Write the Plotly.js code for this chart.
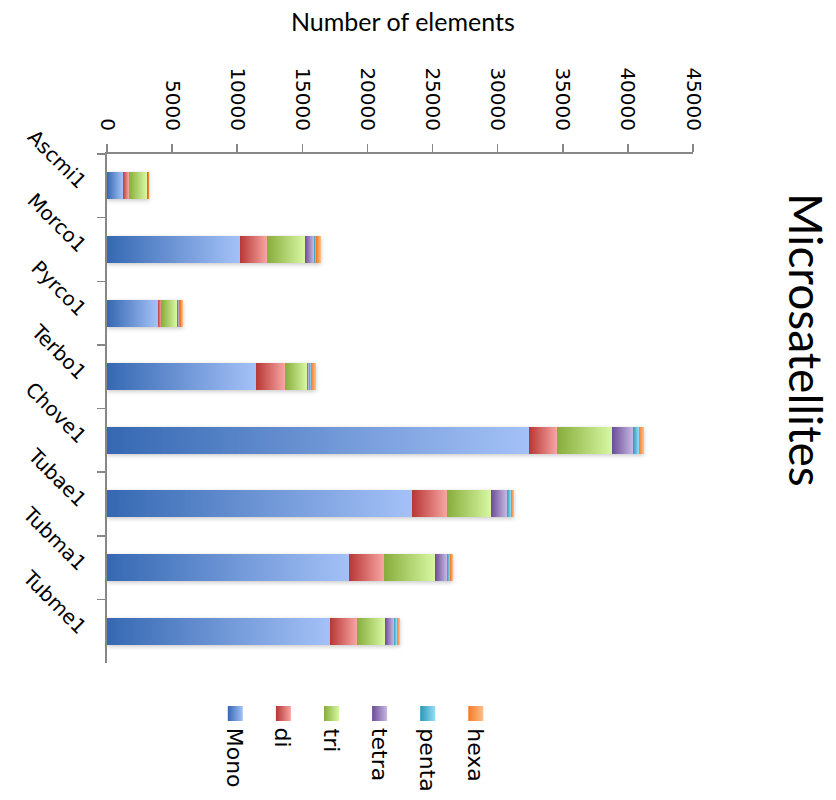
<!DOCTYPE html>
<html>
<head>
<meta charset="utf-8">
<script src="https://cdn.plot.ly/plotly-3.0.1.min.js"></script>
<style>
  html, body { margin: 0; padding: 0; background: #fff; }
  #chart { width: 836px; height: 800px; }
</style>
</head>
<body>
<div id="chart"></div>
<script>
// ---- data ----
const categories = ['Ascmi1', 'Morco1', 'Pyrco1', 'Terbo1', 'Chove1', 'Tubae1', 'Tubma1', 'Tubme1'];
const seriesNames = ['Mono', 'di', 'tri', 'tetra', 'penta', 'hexa'];
const mono  = [1200, 10190, 3890, 11420, 32390, 23400, 18560, 17100];
const di    = [470, 2080, 280, 2230, 2150, 2690, 2690, 2080];
const tri   = [1380, 2910, 1180, 1690, 4220, 3380, 3920, 2150];
const tetra = [50, 700, 180, 150, 1620, 1230, 920, 690];
const penta = [80, 200, 110, 180, 460, 330, 280, 230];
const hexa  = [80, 330, 170, 360, 380, 210, 180, 230];
const xTickVals = [0, 5000, 10000, 15000, 20000, 25000, 30000, 35000, 40000, 45000];
const xTitle = 'Number of elements';
const chartTitle = 'Microsatellites';

// ---- styles ----
const seriesValues = [mono, di, tri, tetra, penta, hexa];
const gradColors = [
  ['#3568b2', '#a4c1f7'],
  ['#b73534', '#f7a5a2'],
  ['#88ac3b', '#d7f7a2'],
  ['#6b4a96', '#c6b8e2'],
  ['#2a97b7', '#95def7'],
  ['#f07b26', '#ffbe88']
];

const plotL = 107, plotR = 693, plotT = 154, plotB = 663;
const W = 836, H = 800;
const px = x => (x - plotL) / (plotR - plotL);
const py = y => (plotB - y) / (plotB - plotT);

const traces = seriesValues.map((vals, i) => ({
  type: 'bar',
  orientation: 'h',
  y: categories,
  x: vals,
  name: seriesNames[i],
  marker: { color: gradColors[i][0], line: { width: 0 } },
  showlegend: false,
  hoverinfo: 'x+y+name'
}));

const tickFont = { family: 'DejaVu Sans', size: 20, color: '#000' };
const legendFont = { family: 'DejaVu Sans', size: 22, color: '#000' };
const axisGray = '#878787';

const annotations = [
  {
    text: xTitle, xref: 'paper', yref: 'paper',
    x: px(403), y: py(21), xanchor: 'center', yanchor: 'middle',
    showarrow: false, font: { family: 'Lato', size: 25, color: '#000' }
  },
  {
    text: chartTitle, xref: 'paper', yref: 'paper',
    x: px(807), y: py(340), xanchor: 'center', yanchor: 'middle',
    textangle: 90, showarrow: false,
    font: { family: 'Lato', size: 46, color: '#000' }
  }
];
const shapes = [];
const legendX0 = 235.3, legendStep = 48.1;
seriesNames.forEach((n, i) => {
  const cx = px(legendX0 + i * legendStep);
  shapes.push({
    type: 'rect', xref: 'paper', yref: 'paper',
    xsizemode: 'pixel', ysizemode: 'pixel',
    xanchor: cx, yanchor: py(713.5),
    x0: -7.5, x1: 7.5, y0: -7.5, y1: 7.5,
    fillcolor: gradColors[i][0], line: { width: 0 }
  });
  annotations.push({
    text: n, xref: 'paper', yref: 'paper',
    x: cx, y: py(726), xanchor: 'center', yanchor: 'top',
    textangle: 90, showarrow: false,
    font: legendFont
  });
});

const layout = {
  width: W, height: H,
  barmode: 'stack',
  bargap: 0.575,
  margin: { l: plotL, r: W - plotR, t: plotT, b: H - plotB, pad: 0 },
  paper_bgcolor: '#fff',
  plot_bgcolor: '#fff',
  showlegend: false,
  xaxis: {
    side: 'top',
    range: [0, 45000],
    tickvals: xTickVals,
    ticktext: xTickVals.map(String),
    tickangle: 90,
    ticks: 'outside', ticklen: 8, tickwidth: 1.5, tickcolor: axisGray,
    showline: true, linecolor: axisGray, linewidth: 2,
    showgrid: false, zeroline: false,
    tickfont: tickFont,
    ticklabelstandoff: 6,
    automargin: false
  },
  yaxis: {
    type: 'category',
    autorange: 'reversed',
    tickangle: 45,
    ticks: 'outside', ticklen: 8, tickwidth: 1.5, tickcolor: axisGray,
    tickson: 'boundaries',
    showline: true, linecolor: axisGray, linewidth: 2,
    showgrid: false, zeroline: false,
    tickfont: tickFont,
    ticklabelstandoff: 16,
    automargin: false
  },
  annotations: annotations,
  shapes: shapes
};

const gd = document.getElementById('chart');
Plotly.newPlot(gd, traces, layout, { displayModeBar: false, staticPlot: true }).then(() => {
  const NS = 'http://www.w3.org/2000/svg';
  const svg = gd.querySelector('svg.main-svg');
  let defs = svg.querySelector('defs');
  if (!defs) { defs = document.createElementNS(NS, 'defs'); svg.insertBefore(defs, svg.firstChild); }
  gradColors.forEach((c, i) => {
    const g = document.createElementNS(NS, 'linearGradient');
    g.setAttribute('id', 'grad' + i);
    g.setAttribute('x1', '0'); g.setAttribute('y1', '0');
    g.setAttribute('x2', '1'); g.setAttribute('y2', '0');
    const s1 = document.createElementNS(NS, 'stop');
    s1.setAttribute('offset', '0'); s1.setAttribute('stop-color', c[0]);
    const s2 = document.createElementNS(NS, 'stop');
    s2.setAttribute('offset', '1'); s2.setAttribute('stop-color', c[1]);
    g.appendChild(s1); g.appendChild(s2);
    defs.appendChild(g);
  });
  const f = document.createElementNS(NS, 'filter');
  f.setAttribute('id', 'barshadow');
  f.setAttribute('x', '-5%'); f.setAttribute('y', '-30%');
  f.setAttribute('width', '110%'); f.setAttribute('height', '160%');
  const ds = document.createElementNS(NS, 'feDropShadow');
  ds.setAttribute('dx', '0'); ds.setAttribute('dy', '1.5');
  ds.setAttribute('stdDeviation', '2');
  ds.setAttribute('flood-color', '#000'); ds.setAttribute('flood-opacity', '0.22');
  f.appendChild(ds);
  defs.appendChild(f);

  const traceGroups = gd.querySelectorAll('.barlayer .trace');
  traceGroups.forEach((tg, i) => {
    tg.querySelectorAll('path').forEach(p => { p.style.fill = 'url(#grad' + i + ')'; });
  });
  const bl = gd.querySelector('.barlayer');
  if (bl) bl.setAttribute('filter', 'url(#barshadow)');
  gd.querySelectorAll('.shapelayer path').forEach(p => {
    const idx = p.getAttribute('data-index');
    if (idx !== null) p.style.fill = 'url(#grad' + idx + ')';
  });
});
</script>
</body>
</html>
